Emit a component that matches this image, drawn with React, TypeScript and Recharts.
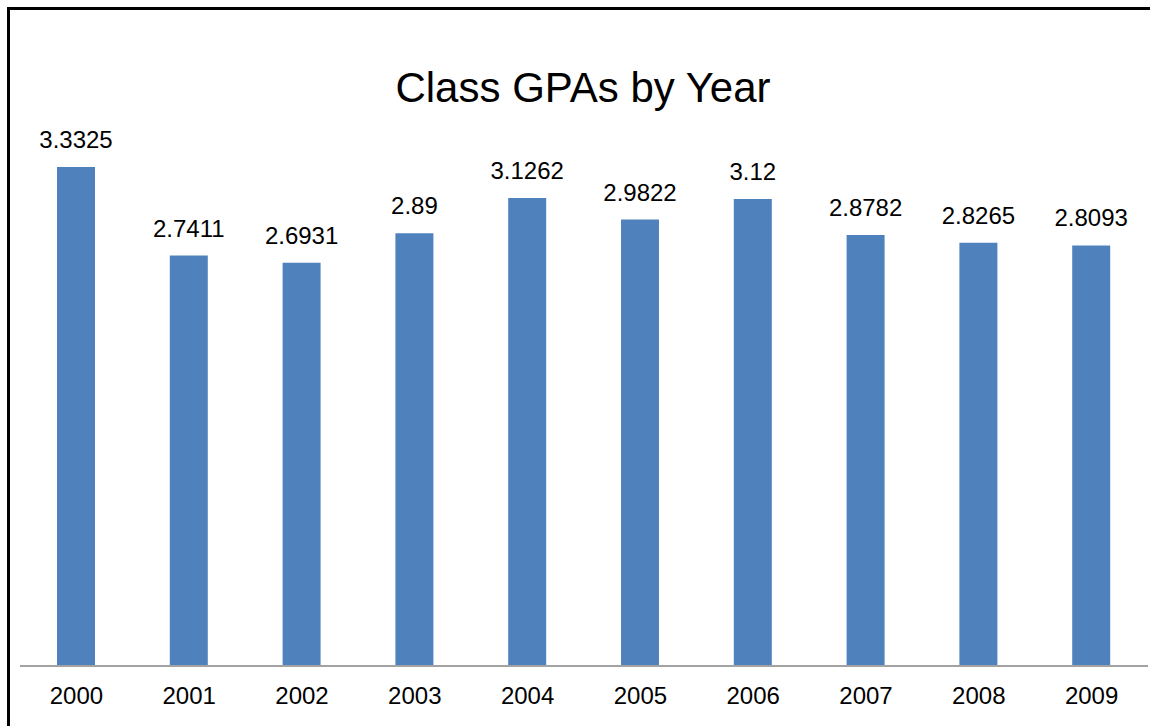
import React from 'react';
import { BarChart, Bar, XAxis, YAxis, LabelList } from 'recharts';

const years = ['2000', '2001', '2002', '2003', '2004', '2005', '2006', '2007', '2008', '2009'];
const gpas = [3.3325, 2.7411, 2.6931, 2.89, 3.1262, 2.9822, 3.12, 2.8782, 2.8265, 2.8093];

const data = years.map((year, i) => ({ year, gpa: gpas[i] }));

const FONT = '"Liberation Sans", Arial, sans-serif';

const App: React.FC = () => {
  return (
    <div
      style={{
        position: 'fixed',
        left: 0,
        top: 0,
        width: 1150,
        height: 726,
        background: '#fff',
        fontFamily: FONT,
        overflow: 'hidden',
      }}
    >
      {/* frame, cropped at right and bottom */}
      <div
        style={{
          position: 'absolute',
          left: 7,
          top: 7,
          width: 1200,
          height: 800,
          borderLeft: '3px solid #000',
          borderTop: '3px solid #000',
        }}
      />
      <svg
        width={1150}
        height={726}
        style={{ position: 'absolute', left: 0, top: 0, pointerEvents: 'none' }}
      >
        <text x={583} y={102} textAnchor="middle" fontSize={42} fontFamily={FONT} fill="#000">
          Class GPAs by Year
        </text>
      </svg>
      <div style={{ position: 'absolute', left: 0, top: 0 }}>
        <BarChart
          width={1150}
          height={726}
          data={data}
          margin={{ top: 142, right: 2, bottom: 0, left: 20 }}
        >
          <XAxis
            dataKey="year"
            height={60}
            axisLine={{ stroke: '#A3A3A3', strokeWidth: 2 }}
            tickLine={false}
            tickSize={0}
            tickMargin={21}
            tick={{ fill: '#000', fontSize: 24, fontFamily: FONT }}
            interval={0}
          />
          <YAxis hide domain={[0, 3.5]} />
          <Bar dataKey="gpa" fill="#4F81BD" barSize={38} isAnimationActive={false}>
            <LabelList
              dataKey="gpa"
              position="top"
              offset={19}
              fill="#000"
              fontSize={24}
              fontFamily={FONT}
            />
          </Bar>
        </BarChart>
      </div>
    </div>
  );
};

export default App;
